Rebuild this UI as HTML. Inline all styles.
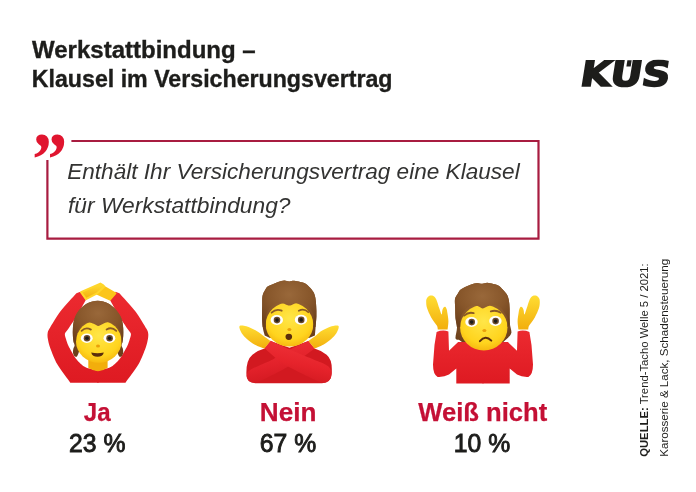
<!DOCTYPE html>
<html lang="de">
<head>
<meta charset="utf-8">
<title>Werkstattbindung – Klausel im Versicherungsvertrag</title>
<style>
html,body{margin:0;padding:0;background:#fff;}
body{width:696px;height:492px;overflow:hidden;position:relative;font-family:"Liberation Sans",sans-serif;}
svg{position:absolute;left:0;top:0;display:block;}
text{font-family:"Liberation Sans",sans-serif;}
.t{font-weight:bold;fill:#1d1d1b;stroke:#1d1d1b;stroke-width:0.35px;}
.q{font-style:italic;fill:#333332;}
.r{font-weight:bold;fill:#c41035;stroke:#c41035;stroke-width:0.25px;}
.n{font-weight:normal;fill:#1d1d1b;stroke:#1d1d1b;stroke-width:0.9px;}
</style>
</head>
<body>
<svg id="main" width="696" height="492" viewBox="0 0 696 492">
<rect width="696" height="492" fill="#ffffff"/>
<!-- title -->
<text id="t1" class="t" x="32" y="58" font-size="23.4" textLength="223.7" lengthAdjust="spacingAndGlyphs">Werkstattbindung –</text>
<text id="t2" class="t" x="31.8" y="86.6" font-size="23.4" textLength="360.7" lengthAdjust="spacingAndGlyphs">Klausel im Versicherungsvertrag</text>
<!-- logo -->
<g id="logo">
<clipPath id="lgclip"><rect x="570" y="59.6" width="110" height="40"/></clipPath>
<g clip-path="url(#lgclip)">
<g transform="translate(579,86) skewX(-9)">
<text id="lg" x="0" y="0" font-size="34.6" style="font-family:'DejaVu Sans','Liberation Sans',sans-serif" font-weight="bold" fill="#1d1d1b" stroke="#1d1d1b" stroke-width="1.7" stroke-linejoin="miter" textLength="89.6" lengthAdjust="spacingAndGlyphs">KÜS</text>
<rect x="44.3" y="-25.8" width="4.3" height="6.4" fill="#1d1d1b"/>
</g>
</g>
</g>
<!-- quote box -->
<path d="M71.4 141 H538.5 V238.6 H47.4 V160" fill="none" stroke="#a81c40" stroke-width="2.2"/>
<text id="qm" x="28" y="185.3" font-size="76" font-weight="bold" font-style="italic" fill="#e0152f" style="font-family:'Liberation Serif',serif" textLength="37.4" lengthAdjust="spacingAndGlyphs">”</text>
<text id="q1" class="q" x="67.2" y="179" font-size="22.5" textLength="452.5" lengthAdjust="spacingAndGlyphs">Enthält Ihr Versicherungsvertrag eine Klausel</text>
<text id="q2" class="q" x="68" y="212.5" font-size="22.5" textLength="222.5" lengthAdjust="spacingAndGlyphs">für Werkstattbindung?</text>
<!-- EMOJI START -->
<defs>
<radialGradient id="gFace" cx="0.5" cy="0.36" r="0.7">
<stop offset="0" stop-color="#ffe648"/><stop offset="0.68" stop-color="#ffd41e"/><stop offset="1" stop-color="#f3b00c"/>
</radialGradient>
<linearGradient id="gHand" x1="0" y1="0" x2="0" y2="1">
<stop offset="0" stop-color="#ffdd33"/><stop offset="1" stop-color="#f2ae0c"/>
</linearGradient>
<linearGradient id="gRed" x1="0" y1="0" x2="0" y2="1">
<stop offset="0" stop-color="#ec2a30"/><stop offset="1" stop-color="#de1a22"/>
</linearGradient>
<radialGradient id="gHair" cx="0.5" cy="0.3" r="0.75">
<stop offset="0" stop-color="#99683a"/><stop offset="0.55" stop-color="#87562a"/><stop offset="1" stop-color="#6c401c"/>
</radialGradient>
<linearGradient id="gArmB" x1="0.35" y1="0" x2="0.65" y2="1">
<stop offset="0" stop-color="#ee2f36"/><stop offset="0.55" stop-color="#e2212a"/><stop offset="1" stop-color="#cf171f"/>
</linearGradient>
<linearGradient id="gArmF" x1="0.65" y1="0" x2="0.35" y2="1">
<stop offset="0" stop-color="#f0343a"/><stop offset="0.55" stop-color="#e6232b"/><stop offset="1" stop-color="#d0181f"/>
</linearGradient>
</defs>
<!-- emoji 1: OK gesture -->
<g id="e1">
<g id="e1half"><path d="M98.6 382.7 H70.3 L70.3 382.7 C68.6 380.2 60.0 368.9 57.3 364.3 C54.6 359.7 51.5 351.4 50.2 348.0 C48.9 344.6 48.1 340.4 47.8 338.5 C47.5 336.6 47.4 334.7 47.6 333.4 C47.8 332.1 47.8 331.4 49.5 328.5 C51.2 325.6 56.7 316.1 60.3 311.4 C63.9 306.7 74.3 295.6 76.4 293.2 L80.3 291.8 L85.9 299.8 C84.7 302.0 79.2 312.1 76.8 316.0 C74.4 319.9 69.8 326.6 68.2 329.0 C66.6 331.4 65.2 332.5 64.9 333.8 C64.6 335.1 65.5 337.4 66.0 339.0 C66.5 340.6 67.2 343.4 68.5 346.0 C69.8 348.6 73.6 355.5 75.6 358.2 C77.6 360.9 81.8 364.9 83.7 366.3 C85.6 367.7 87.5 368.0 89.5 368.6 C91.5 369.2 97.4 370.7 98.6 371.0 Z" fill="url(#gRed)"/></g>
<use href="#e1half" transform="translate(195.8,0) scale(-1,1)"/>
<path d="M88.3 358 H107.6 V367.8 Q98 374.6 88.3 367.8 Z" fill="#f2ae0c"/>
<path d="M73.7 342.4 C73.6 341.3 73.0 338.4 72.9 336.0 C72.8 333.6 72.7 330.8 72.9 328.2 C73.1 325.6 73.4 322.6 74.1 320.1 C74.8 317.6 75.9 315.1 77.1 313.1 C78.3 311.1 79.6 309.6 81.1 308.1 C82.6 306.6 84.2 305.1 86.1 304.0 C87.9 302.9 90.3 302.1 92.2 301.5 C94.1 300.9 95.9 300.7 97.7 300.7 C99.5 300.7 101.3 300.9 103.2 301.5 C105.1 302.1 107.4 302.8 109.3 304.0 C111.2 305.2 113.2 307.0 114.8 308.6 C116.4 310.2 117.6 311.7 118.8 313.6 C120.0 315.5 121.2 317.7 121.9 320.1 C122.6 322.5 123.0 325.6 123.2 328.2 C123.4 330.8 123.3 333.6 123.2 336.0 C123.1 338.4 122.5 341.3 122.4 342.4 L122.5 342.4 C122.3 342.9 121.5 344.5 121.6 345.5 C121.6 346.5 122.5 347.3 122.8 348.5 C123.1 349.7 123.3 351.3 123.2 352.5 C123.1 353.7 122.6 355.1 122.0 355.8 C121.4 356.5 120.3 357.2 119.6 356.8 C118.9 356.4 118.1 354.1 117.8 353.5 L115 345 H81 L78.4 353.5 L78.4 353.5 C78.1 354.1 77.3 356.4 76.6 356.8 C75.9 357.2 74.8 356.5 74.2 355.8 C73.6 355.1 73.1 353.7 73.0 352.5 C72.9 351.3 73.1 349.7 73.4 348.5 C73.7 347.3 74.5 346.5 74.6 345.5 C74.6 344.5 73.8 342.9 73.7 342.4 Z" fill="url(#gHair)"/>
<ellipse cx="98.8" cy="341.4" rx="22.8" ry="21.4" fill="url(#gFace)"/>
<path d="M73.7 342.4 C73.6 341.3 73.0 338.4 72.9 336.0 C72.8 333.6 72.7 330.8 72.9 328.2 C73.1 325.6 73.4 322.6 74.1 320.1 C74.8 317.6 75.9 315.1 77.1 313.1 C78.3 311.1 79.6 309.6 81.1 308.1 C82.6 306.6 84.2 305.1 86.1 304.0 C87.9 302.9 90.3 302.1 92.2 301.5 C94.1 300.9 95.9 300.7 97.7 300.7 C99.5 300.7 101.3 300.9 103.2 301.5 C105.1 302.1 107.4 302.8 109.3 304.0 C111.2 305.2 113.2 307.0 114.8 308.6 C116.4 310.2 117.6 311.7 118.8 313.6 C120.0 315.5 121.2 317.7 121.9 320.1 C122.6 322.5 123.0 325.6 123.2 328.2 C123.4 330.8 123.3 333.6 123.2 336.0 C123.1 338.4 122.5 341.3 122.4 342.4 L121.5 342.5 C121.5 341.4 121.8 338.1 121.6 336.0 C121.3 333.9 121.0 332.0 120.0 330.2 C119.0 328.4 117.2 326.4 115.8 325.2 C114.3 323.9 112.9 323.2 111.3 322.7 C109.7 322.2 107.8 322.1 106.3 322.4 C104.8 322.6 103.5 323.6 102.2 324.2 C100.9 324.8 99.5 325.9 98.2 325.9 C97.0 325.9 96.0 324.7 94.7 324.2 C93.5 323.7 92.1 322.9 90.7 322.7 C89.3 322.4 87.6 322.3 86.1 322.7 C84.6 323.1 82.9 323.9 81.6 325.2 C80.3 326.4 79.0 328.4 78.1 330.2 C77.2 332.0 76.8 333.9 76.4 336.0 C76.1 338.1 76.1 341.4 76.0 342.5 Z" fill="url(#gHair)"/>
<ellipse cx="86.8" cy="338.2" rx="5.9" ry="4.8" fill="#fff"/><circle cx="87.0" cy="338.3" r="3.3" fill="#6b4a2a"/><circle cx="87.0" cy="338.3" r="1.8" fill="#1d1d1b"/>
<ellipse cx="109.4" cy="338.2" rx="5.9" ry="4.8" fill="#fff"/><circle cx="109.6" cy="338.3" r="3.3" fill="#6b4a2a"/><circle cx="109.6" cy="338.3" r="1.8" fill="#1d1d1b"/>
<path d="M81.6 330.9 Q85.8 326.6 90.9 329.6" fill="none" stroke="#8a5a26" stroke-width="1.8" stroke-linecap="round"/>
<path d="M116.3 330.9 Q111.6 326.4 106.6 329.6" fill="none" stroke="#8a5a26" stroke-width="1.8" stroke-linecap="round"/>
<ellipse cx="98" cy="346" rx="2" ry="1.5" fill="#eaa10a"/>
<path d="M91.2 352.4 Q97.5 354 103.8 352.4 Q102.8 356.8 97.5 356.8 Q92.2 356.8 91.2 352.4 Z" fill="#5a2d0c"/>
<path d="M105.4 287.6 L115.4 293.4 L110 299.6 L96.8 293.6 Z" fill="#fbc51a" stroke="#fbc51a" stroke-width="2" stroke-linejoin="round"/>
<path d="M81 292.2 L100.4 283.6 Q103.2 284.6 104.4 286.6 L97 293.4 L86 299.2 Z" fill="url(#gHand)" stroke="#ffd62a" stroke-width="2" stroke-linejoin="round"/>
</g>
<!-- emoji 2: NO gesture -->
<g id="e2">
<path d="M264.7 335.5 C264.4 334.1 263.1 330.2 262.7 327.0 C262.2 323.8 262.1 319.5 262.0 316.0 C261.9 312.5 262.1 309.5 262.2 306.2 C262.3 302.9 262.0 298.8 262.5 296.1 C263.0 293.4 264.2 291.7 265.1 290.1 C266.0 288.5 266.4 287.5 267.6 286.6 C268.8 285.7 270.4 285.4 272.1 284.6 C273.9 283.8 276.1 282.7 278.1 282.0 C280.1 281.3 282.4 280.7 284.2 280.6 C286.0 280.5 287.5 281.5 289.2 281.5 C290.9 281.5 292.3 280.7 294.2 280.8 C296.1 280.9 298.4 281.6 300.3 282.0 C302.2 282.4 303.8 282.6 305.3 283.5 C306.8 284.4 308.0 285.7 309.3 287.1 C310.6 288.5 312.4 290.3 313.4 292.1 C314.4 293.9 314.9 295.8 315.4 298.1 C315.9 300.5 316.0 303.2 316.2 306.2 C316.4 309.2 316.5 312.5 316.4 316.0 C316.3 319.5 315.9 323.8 315.6 327.0 C315.4 330.2 315.0 334.1 314.9 335.5 L309 338 H270 Z" fill="url(#gHair)"/>
<path d="M246.4 374 Q246 360 252.4 354.7 Q258 350.5 264.5 348.6 L270.5 340.9 L289.5 347.8 L308.4 340.9 L314.5 348.6 Q321 350.5 326.6 354.7 Q333 360 331.6 374 Q331 383.2 322 383.2 H255.4 Q246.4 383.2 246.4 374 Z" fill="#d21920"/>
<ellipse cx="289.5" cy="324.4" rx="23.8" ry="22.2" fill="url(#gFace)"/>
<path d="M308.4 340.9 C306.2 341.9 293.7 347.4 289.6 349.6 C285.5 351.8 277.2 357.3 273.0 359.4 C268.8 361.5 256.5 366.6 253.6 368.0 C250.7 369.4 249.0 370.6 248.2 371.5 C247.4 372.4 246.6 374.9 246.6 376.0 C246.6 377.1 247.9 379.8 248.6 380.6 C249.3 381.4 251.8 382.5 253.0 382.6 C254.2 382.7 255.2 383.2 258.7 381.7 C262.2 380.2 278.2 372.2 283.1 369.5 C288.0 366.8 297.3 360.9 301.0 358.5 C304.7 356.1 312.9 349.8 314.5 348.6 Z" fill="url(#gArmB)"/>
<path d="M270.6 340.7 C272.8 341.7 283.8 346.9 289.6 349.4 C295.4 351.9 316.0 360.3 320.5 362.3 C325.0 364.3 327.2 365.4 328.5 366.6 C329.8 367.8 331.4 371.0 331.6 372.4 C331.8 373.8 331.3 377.2 330.6 378.4 C329.9 379.6 327.0 382.1 325.5 382.4 C324.0 382.7 322.5 383.2 317.6 381.0 C312.7 378.8 289.3 367.6 283.1 363.7 C276.9 359.8 266.6 349.7 264.4 347.9 Z" fill="url(#gArmF)"/>
<path d="M262.7 327.0 C262.6 325.2 262.1 319.5 262.0 316.0 C261.9 312.5 262.1 309.5 262.2 306.2 C262.3 302.9 262.0 298.8 262.5 296.1 C263.0 293.4 264.2 291.7 265.1 290.1 C266.0 288.5 266.4 287.5 267.6 286.6 C268.8 285.7 270.4 285.4 272.1 284.6 C273.9 283.8 276.1 282.7 278.1 282.0 C280.1 281.3 282.4 280.7 284.2 280.6 C286.0 280.5 287.5 281.5 289.2 281.5 C290.9 281.5 292.3 280.7 294.2 280.8 C296.1 280.9 298.4 281.6 300.3 282.0 C302.2 282.4 303.8 282.6 305.3 283.5 C306.8 284.4 308.0 285.7 309.3 287.1 C310.6 288.5 312.4 290.3 313.4 292.1 C314.4 293.9 314.9 295.8 315.4 298.1 C315.9 300.5 316.0 303.2 316.2 306.2 C316.4 309.2 316.5 312.5 316.4 316.0 C316.3 319.5 315.7 325.2 315.6 327.0 L313.3 327.0 C313.4 325.2 314.0 318.8 313.7 316.0 C313.4 313.2 312.4 312.0 311.3 310.2 C310.2 308.4 308.8 306.4 307.3 305.2 C305.8 303.9 304.0 303.1 302.3 302.7 C300.6 302.3 298.8 302.4 297.3 302.7 C295.8 302.9 294.6 303.7 293.2 304.2 C291.8 304.7 290.5 305.6 289.2 305.6 C287.9 305.6 286.5 304.6 285.2 304.2 C283.9 303.8 282.7 303.1 281.2 303.0 C279.7 302.9 277.7 303.2 276.1 303.7 C274.5 304.2 272.9 305.1 271.6 306.2 C270.3 307.3 269.0 308.6 268.1 310.2 C267.2 311.8 266.5 313.2 266.1 316.0 C265.7 318.8 265.9 325.2 265.8 327.0 Z" fill="url(#gHair)"/>
<ellipse cx="276.8" cy="320.0" rx="6.2" ry="5.0" fill="#fff"/><circle cx="277.0" cy="320.1" r="3.3" fill="#6b4a2a"/><circle cx="277.0" cy="320.1" r="1.8" fill="#1d1d1b"/>
<ellipse cx="301.0" cy="319.8" rx="6.2" ry="5.0" fill="#fff"/><circle cx="301.2" cy="319.9" r="3.3" fill="#6b4a2a"/><circle cx="301.2" cy="319.9" r="1.8" fill="#1d1d1b"/>
<path d="M271.6 312.7 Q276 308.4 281.7 310.7" fill="none" stroke="#8a5a26" stroke-width="1.8" stroke-linecap="round"/>
<path d="M308.3 312.2 Q304 308 298.8 310.7" fill="none" stroke="#8a5a26" stroke-width="1.8" stroke-linecap="round"/>
<ellipse cx="289.4" cy="329.4" rx="2" ry="1.5" fill="#eaa10a"/>
<ellipse cx="288.8" cy="336.8" rx="3.3" ry="3.1" fill="#5a2d0c"/>
<path d="M308.4 340.9 C309.7 340.0 313.7 337.1 316.0 335.4 C318.3 333.7 319.8 331.9 322.2 330.5 C324.6 329.1 328.0 327.6 330.2 326.8 C332.4 326.0 333.9 325.8 335.2 325.6 C336.5 325.4 337.6 325.4 338.2 325.8 C338.8 326.2 338.9 326.7 338.6 328.0 C338.3 329.3 337.4 331.7 336.2 333.5 C335.0 335.3 333.4 337.1 331.2 339.0 C329.0 340.9 326.0 343.2 323.2 344.8 C320.4 346.4 315.9 348.0 314.5 348.6 Z" fill="url(#gHand)"/>
<path d="M270.5 340.9 C269.2 340.0 265.3 337.1 262.9 335.4 C260.5 333.7 258.4 331.9 255.9 330.5 C253.4 329.1 250.1 327.6 247.9 326.8 C245.7 326.0 244.2 325.8 242.9 325.6 C241.6 325.4 240.5 325.4 239.9 325.8 C239.3 326.2 239.2 326.7 239.5 328.0 C239.8 329.3 240.7 331.7 241.9 333.5 C243.1 335.3 244.7 337.1 246.9 339.0 C249.1 340.9 252.0 343.2 254.9 344.8 C257.8 346.4 262.8 348.0 264.4 348.6 Z" fill="url(#gHand)"/>
</g>
<!-- emoji 3: shrug -->
<g id="e3">
<path d="M458.9 339.8 C458.3 339.5 455.8 340.3 455.5 338.2 C455.2 336.1 457.0 330.8 457.0 327.4 C457.0 324.0 455.8 321.2 455.5 318.0 C455.2 314.8 455.3 311.3 455.2 308.2 C455.1 305.1 454.6 301.5 455.0 299.1 C455.4 296.8 456.8 295.6 457.6 294.1 C458.5 292.6 458.9 291.3 460.1 290.1 C461.4 288.9 463.3 288.0 465.1 287.1 C466.9 286.2 469.1 285.2 471.1 284.5 C473.1 283.8 475.4 283.1 477.2 283.0 C479.0 282.9 480.5 283.8 482.2 283.8 C483.9 283.8 485.3 282.8 487.2 282.8 C489.1 282.8 491.4 283.6 493.3 284.0 C495.2 284.4 496.7 284.6 498.3 285.5 C499.9 286.4 501.4 288.1 502.8 289.6 C504.2 291.1 505.9 292.8 506.9 294.6 C507.9 296.4 508.4 298.3 508.9 300.6 C509.3 302.9 509.5 305.3 509.6 308.2 C509.7 311.1 509.6 315.3 509.6 318.0 C509.7 320.7 509.6 321.8 509.9 324.3 C510.2 326.8 511.7 330.6 511.4 332.8 C511.1 335.0 508.8 336.7 508.3 337.5 L500 345 H466 Z" fill="url(#gHair)"/>
<g id="e3half"><path d="M483.5 383.4 H456.3 V368.6 L449 374.6 Q444 377.4 437.6 377 Q433 374.5 433 364.6 L434.5 345 L436.6 332 Q442.5 329.4 448.4 331.4 L449 350.7 L458.1 342.1 L483.5 342.1 Z" fill="url(#gRed)"/></g>
<use href="#e3half" transform="translate(966.0,0) scale(-1,1)"/>
<ellipse cx="483.8" cy="327.6" rx="23.7" ry="22.8" fill="url(#gFace)"/>
<path d="M457.0 327.4 C456.8 325.8 455.8 321.2 455.5 318.0 C455.2 314.8 455.3 311.3 455.2 308.2 C455.1 305.1 454.6 301.5 455.0 299.1 C455.4 296.8 456.8 295.6 457.6 294.1 C458.5 292.6 458.9 291.3 460.1 290.1 C461.4 288.9 463.3 288.0 465.1 287.1 C466.9 286.2 469.1 285.2 471.1 284.5 C473.1 283.8 475.4 283.1 477.2 283.0 C479.0 282.9 480.5 283.8 482.2 283.8 C483.9 283.8 485.3 282.8 487.2 282.8 C489.1 282.8 491.4 283.6 493.3 284.0 C495.2 284.4 496.7 284.6 498.3 285.5 C499.9 286.4 501.4 288.1 502.8 289.6 C504.2 291.1 505.9 292.8 506.9 294.6 C507.9 296.4 508.4 298.3 508.9 300.6 C509.3 302.9 509.5 305.3 509.6 308.2 C509.7 311.1 509.6 315.3 509.6 318.0 C509.7 320.7 509.8 323.2 509.9 324.3 L507.6 327.0 C507.6 325.5 507.9 320.3 507.4 318.0 C506.9 315.7 505.8 314.8 504.8 313.2 C503.8 311.6 502.7 309.5 501.3 308.2 C499.9 306.9 498.1 305.7 496.3 305.2 C494.6 304.7 492.4 304.9 490.8 305.2 C489.2 305.4 488.1 306.2 486.7 306.7 C485.3 307.2 483.9 308.4 482.7 308.4 C481.4 308.4 480.5 307.2 479.2 306.7 C477.9 306.2 476.3 305.3 474.7 305.2 C473.1 305.1 471.1 305.5 469.6 306.2 C468.1 306.9 466.8 308.0 465.6 309.2 C464.4 310.4 463.4 311.7 462.6 313.2 C461.8 314.7 461.0 315.7 460.6 318.0 C460.2 320.3 460.3 325.5 460.2 327.0 Z" fill="url(#gHair)"/>
<ellipse cx="471.5" cy="322.0" rx="6.2" ry="5.0" fill="#fff"/><circle cx="471.7" cy="322.1" r="3.3" fill="#6b4a2a"/><circle cx="471.7" cy="322.1" r="1.8" fill="#1d1d1b"/>
<ellipse cx="495.4" cy="321.0" rx="6.2" ry="5.0" fill="#fff"/><circle cx="495.6" cy="321.1" r="3.3" fill="#6b4a2a"/><circle cx="495.6" cy="321.1" r="1.8" fill="#1d1d1b"/>
<path d="M464.1 315.7 Q468.6 311.6 473.7 313.2" fill="none" stroke="#8a5a26" stroke-width="1.8" stroke-linecap="round"/>
<path d="M490.8 311.4 Q496 309.6 500.8 312.8" fill="none" stroke="#8a5a26" stroke-width="1.8" stroke-linecap="round"/>
<ellipse cx="484.4" cy="330.6" rx="2" ry="1.5" fill="#eaa10a"/>
<path d="M479.9 341.2 Q485.5 334.6 491.3 340.6" fill="none" stroke="#5a2d0c" stroke-width="2" stroke-linecap="round"/>
<path d="M437.8 329.6 C437.6 328.9 437.9 327.6 436.8 325.6 C435.7 323.6 432.8 320.3 431.2 317.4 C429.6 314.5 427.9 310.9 427.1 308.3 C426.3 305.7 426.2 303.6 426.2 302.0 C426.1 300.4 426.3 299.5 426.8 298.5 C427.3 297.5 428.3 296.5 429.0 296.0 C429.7 295.5 430.5 295.4 431.2 295.4 C431.9 295.4 432.6 295.4 433.4 296.0 C434.2 296.6 435.2 297.1 436.2 299.2 C437.2 301.2 438.4 305.8 439.3 308.3 C440.2 310.9 441.1 314.1 441.6 314.5 C442.1 314.9 442.0 311.7 442.3 310.5 C442.6 309.3 443.1 308.1 443.6 307.5 C444.1 306.9 444.7 306.6 445.2 306.8 C445.7 307.1 446.2 308.0 446.6 309.0 C447.0 310.0 447.1 310.9 447.4 313.0 C447.7 315.1 448.4 318.7 448.4 321.5 C448.4 324.3 447.7 328.2 447.6 329.6 Z" fill="url(#gHand)"/>
<path d="M528.2 329.6 C528.4 328.9 528.1 327.6 529.2 325.6 C530.3 323.6 533.2 320.3 534.8 317.4 C536.4 314.5 538.1 310.9 538.9 308.3 C539.7 305.7 539.8 303.6 539.8 302.0 C539.8 300.4 539.7 299.5 539.2 298.5 C538.7 297.5 537.7 296.5 537.0 296.0 C536.3 295.5 535.5 295.4 534.8 295.4 C534.1 295.4 533.4 295.4 532.6 296.0 C531.8 296.6 530.8 297.1 529.8 299.2 C528.8 301.2 527.6 305.8 526.7 308.3 C525.8 310.9 524.9 314.1 524.4 314.5 C523.9 314.9 524.0 311.7 523.7 310.5 C523.4 309.3 522.9 308.1 522.4 307.5 C521.9 306.9 521.3 306.6 520.8 306.8 C520.3 307.1 519.8 308.0 519.4 309.0 C519.0 310.0 518.9 310.9 518.6 313.0 C518.3 315.1 517.6 318.7 517.6 321.5 C517.6 324.3 518.3 328.2 518.4 329.6 Z" fill="url(#gHand)"/>
</g>
<!-- EMOJI END -->
<!-- labels -->
<text id="l1" class="r" x="97.2" y="421" font-size="25" text-anchor="middle" textLength="26.8" lengthAdjust="spacingAndGlyphs">Ja</text>
<text id="n1" class="n" x="97.2" y="452" font-size="25" text-anchor="middle" textLength="56.4" lengthAdjust="spacingAndGlyphs">23 %</text>
<text id="l2" class="r" x="288.1" y="421" font-size="25" text-anchor="middle" textLength="56.6" lengthAdjust="spacingAndGlyphs">Nein</text>
<text id="n2" class="n" x="288" y="452" font-size="25" text-anchor="middle" textLength="56.4" lengthAdjust="spacingAndGlyphs">67 %</text>
<text id="l3" class="r" x="482.7" y="421" font-size="25" text-anchor="middle" textLength="129" lengthAdjust="spacingAndGlyphs">Weiß nicht</text>
<text id="n3" class="n" x="482" y="452" font-size="25" text-anchor="middle" textLength="56.4" lengthAdjust="spacingAndGlyphs">10 %</text>
<!-- source -->
<g transform="translate(0,0)">
<text id="s1" transform="translate(648.2,456.8) rotate(-90)" font-size="11.8" fill="#1d1d1b" textLength="193.5" lengthAdjust="spacingAndGlyphs"><tspan font-weight="bold">QUELLE:</tspan> Trend-Tacho Welle 5 / 2021:</text>
<text id="s2" transform="translate(668.2,456.8) rotate(-90)" font-size="11.8" fill="#1d1d1b" textLength="198" lengthAdjust="spacingAndGlyphs">Karosserie &amp; Lack, Schadensteuerung</text>
</g>
</svg>
</body>
</html>
